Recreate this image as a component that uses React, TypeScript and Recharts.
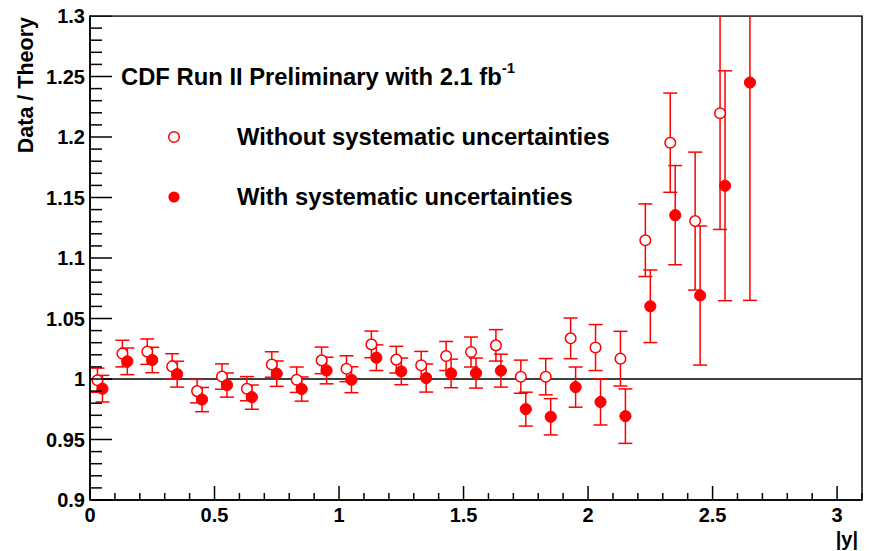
import {
  ScatterChart,
  Scatter,
  XAxis,
  YAxis,
  ErrorBar,
  ReferenceLine,
  ReferenceArea,
} from "recharts";

// |y| bin positions and Data/Theory ratios, statistical errors only
const openX = [
  0.03, 0.13, 0.23, 0.33, 0.43, 0.53, 0.63, 0.73, 0.83, 0.93, 1.03, 1.13, 1.23,
  1.33, 1.43, 1.53, 1.63, 1.73, 1.83, 1.93, 2.03, 2.13, 2.23, 2.33, 2.43, 2.53,
];
const openRatio = [
  0.999, 1.021, 1.0226, 1.0104, 0.99, 1.002, 0.992, 1.012, 0.9994, 1.0154,
  1.0085, 1.0286, 1.016, 1.0113, 1.019, 1.0223, 1.0278, 1.0019, 1.0019, 1.0336,
  1.026, 1.0168, 1.1147, 1.1953, 1.1305, 1.2196,
];
const openErr = [
  0.01, 0.011, 0.0105, 0.0105, 0.0097, 0.0105, 0.01, 0.0105, 0.0105, 0.011,
  0.0107, 0.011, 0.011, 0.0115, 0.012, 0.0124, 0.013, 0.0137, 0.015, 0.0168,
  0.019, 0.0226, 0.03, 0.041, 0.057, 0.096,
];

// same bins with systematic uncertainties folded in
const filledX = [
  0.05, 0.15, 0.25, 0.35, 0.45, 0.55, 0.65, 0.75, 0.85, 0.95, 1.05, 1.15, 1.25,
  1.35, 1.45, 1.55, 1.65, 1.75, 1.85, 1.95, 2.05, 2.15, 2.25, 2.35, 2.45, 2.55,
  2.65,
];
const filledRatio = [
  0.992, 1.0146, 1.0157, 1.004, 0.983, 0.995, 0.985, 1.0044, 0.9917, 1.007,
  0.9994, 1.0176, 1.0063, 1.0008, 1.0046, 1.0049, 1.0069, 0.9751, 0.9688,
  0.9933, 0.981, 0.9693, 1.0601, 1.1354, 1.069, 1.1597, 1.245,
];
const filledErr = [
  0.011, 0.011, 0.0105, 0.0107, 0.01, 0.01, 0.01, 0.0105, 0.01, 0.011, 0.0107,
  0.0106, 0.011, 0.0116, 0.0118, 0.0124, 0.0136, 0.014, 0.015, 0.0166, 0.019,
  0.0225, 0.03, 0.041, 0.0575, 0.095, 0.18,
];

const xDomain: [number, number] = [0, 3.1];
const yDomain: [number, number] = [0.9, 1.3];
const xMajor = [0, 0.5, 1, 1.5, 2, 2.5, 3];
const yMajor = [0.9, 0.95, 1, 1.05, 1.1, 1.15, 1.2, 1.25, 1.3];

const W = 870;
const H = 551;
const RED = "#ff0000";
const FONT = "'Liberation Sans', Arial, Helvetica, sans-serif";

const round2 = (v: number) => Math.round(v * 100) / 100;
const xTicks = Array.from({ length: 32 }, (_, i) => round2(i * 0.1));
const yTicks = Array.from({ length: 41 }, (_, i) => round2(0.9 + i * 0.01));
const isMajor = (v: number, list: number[]) =>
  list.some((m) => Math.abs(m - v) < 1e-6);

const openData = openX.map((x, i) => ({ x, y: openRatio[i], err: openErr[i] }));
const filledData = filledX.map((x, i) => ({
  x,
  y: filledRatio[i],
  err: filledErr[i],
}));

// ROOT-style ticks: drawn inward from the axis line
const XTick = (props: any) => {
  const { x, y, payload } = props;
  const major = isMajor(payload.value, xMajor);
  const len = major ? 14 : 7;
  return (
    <g>
      <path d={`M${x},${y}V${y - len}`} stroke="#000" strokeWidth={1.5} fill="none" />
      {major && (
        <text
          x={x}
          y={y + 22}
          textAnchor="middle"
          fontFamily={FONT}
          fontWeight="bold"
          fontSize={20}
          fill="#000"
          stroke="none"
        >
          {String(payload.value)}
        </text>
      )}
    </g>
  );
};

const YTick = (props: any) => {
  const { x, y, payload } = props;
  const major = isMajor(payload.value, yMajor);
  const len = major ? 22 : 12;
  return (
    <g>
      <path d={`M${x},${y}H${x + len}`} stroke="#000" strokeWidth={1.5} fill="none" />
      {major && (
        <text
          x={x - 5}
          y={y + 7}
          textAnchor="end"
          fontFamily={FONT}
          fontWeight="bold"
          fontSize={20}
          fill="#000"
          stroke="none"
        >
          {String(payload.value)}
        </text>
      )}
    </g>
  );
};

const OpenDot = (p: any) => (
  <circle cx={p.cx} cy={p.cy} r={5.3} fill="#fff" stroke={RED} strokeWidth={1.5} />
);
const FilledDot = (p: any) => (
  <circle cx={p.cx} cy={p.cy} r={5.6} fill={RED} stroke={RED} strokeWidth={1} />
);

export default function App() {
  return (
    <div
      style={{
        position: "absolute",
        left: 0,
        top: 0,
        width: W,
        height: H,
        background: "#fff",
      }}
    >
      <ScatterChart
        width={W}
        height={H}
        margin={{ top: 16, right: 8, bottom: 0, left: 0 }}
      >
        <ReferenceArea
          x1={0}
          x2={3.1}
          y1={0.9}
          y2={1.3}
          fill="none"
          stroke="#000"
          strokeWidth={1.5}
        />
        <ReferenceLine y={1} stroke="#000" strokeWidth={1.5} />
        <Scatter data={openData} shape={<OpenDot />} isAnimationActive={false}>
          <ErrorBar
            dataKey="err"
            direction="y"
            width={7}
            stroke={RED}
            strokeWidth={1.5}
            isAnimationActive={false}
          />
        </Scatter>
        <Scatter data={filledData} shape={<FilledDot />} isAnimationActive={false}>
          <ErrorBar
            dataKey="err"
            direction="y"
            width={7}
            stroke={RED}
            strokeWidth={1.5}
            isAnimationActive={false}
          />
        </Scatter>
        <XAxis
          type="number"
          dataKey="x"
          domain={xDomain}
          ticks={xTicks}
          interval={0}
          allowDataOverflow
          height={51}
          tickSize={0}
          tickMargin={0}
          tickLine={false}
          axisLine={{ stroke: "#000", strokeWidth: 1.5 }}
          tick={<XTick />}
        />
        <YAxis
          type="number"
          dataKey="y"
          domain={yDomain}
          ticks={yTicks}
          interval={0}
          allowDataOverflow
          width={90}
          tickSize={0}
          tickMargin={0}
          tickLine={false}
          axisLine={{ stroke: "#000", strokeWidth: 1.5 }}
          tick={<YTick />}
        />
      </ScatterChart>

      {/* titles, legend, and a white strip hiding error bars above the frame */}
      <svg
        width={W}
        height={H}
        style={{ position: "absolute", left: 0, top: 0, pointerEvents: "none" }}
        fontFamily={FONT}
        fontWeight="bold"
      >
        <rect x={91} y={0} width={W - 91} height={15.2} fill="#fff" />
        <text
          transform="translate(33,17) rotate(-90)"
          textAnchor="end"
          fontSize={21.5}
          fill="#000"
        >
          Data / Theory
        </text>
        <text x={858} y={546} textAnchor="end" fontSize={20} fill="#000">
          |y|
        </text>
        <text x={121} y={85} fontSize={23.8} fill="#000">
          CDF Run II Preliminary with 2.1 fb
          <tspan fontSize={15} dy={-12}>
            -1
          </tspan>
        </text>
        <circle cx={174} cy={137} r={5.3} fill="#fff" stroke={RED} strokeWidth={1.5} />
        <text x={237} y={145} fontSize={23.8} fill="#000">
          Without systematic uncertainties
        </text>
        <circle cx={174} cy={197} r={5.6} fill={RED} />
        <text x={237} y={205} fontSize={23.8} fill="#000">
          With systematic uncertainties
        </text>
      </svg>
    </div>
  );
}
